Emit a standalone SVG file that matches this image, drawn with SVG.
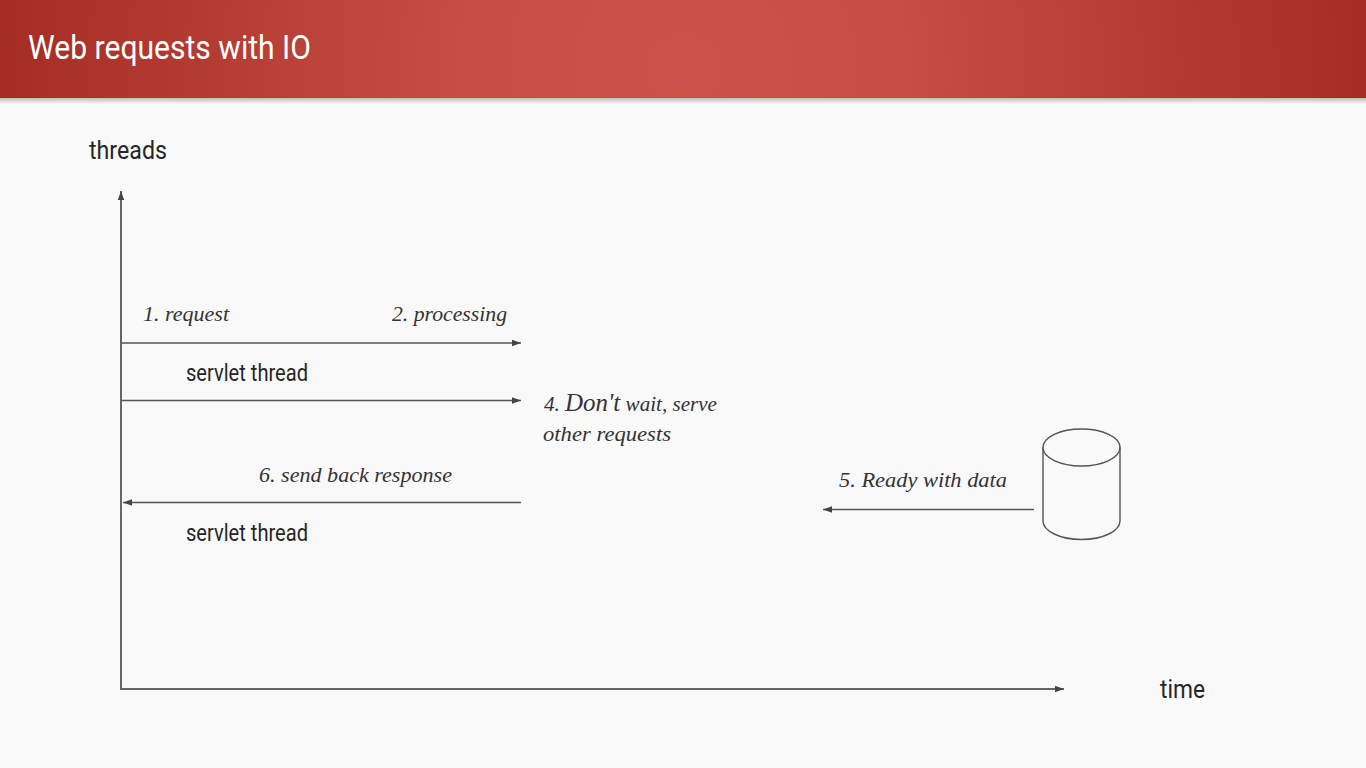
<svg xmlns="http://www.w3.org/2000/svg" width="1366" height="768" viewBox="0 0 1366 768">
<style>
.r{font-family:Roboto,"Liberation Sans",sans-serif;fill:#262626;font-size:25px}
.h{font-family:"Liberation Serif",serif;font-style:italic;fill:#333;font-size:22px}
.l{stroke:#555;stroke-width:1.5;fill:none}
.a{stroke:#666;stroke-width:2;fill:none}
.c{stroke:#555;stroke-width:1.4;fill:none}
</style>
<defs>
<radialGradient id="g" gradientUnits="userSpaceOnUse" cx="683" cy="70" r="720">
<stop offset="0" stop-color="#c9524a"/><stop offset=".3" stop-color="#c64e44"/><stop offset="1" stop-color="#a22a20"/>
</radialGradient>
<linearGradient id="s" x1="0" y1="0" x2="0" y2="1"><stop offset="0" stop-color="#bdbdbd"/><stop offset="1" stop-color="#f9f9f9"/></linearGradient>
<marker id="m" markerUnits="userSpaceOnUse" markerWidth="10" markerHeight="8" refX="9" refY="4" orient="auto"><path d="M0 .8L9 4L0 7.2z" fill="#444"/></marker>
</defs>
<rect width="1366" height="768" fill="#f9f9f9"/>
<g id="header">
<rect y="98" width="1366" height="6" fill="url(#s)"/>
<rect width="1366" height="98" fill="url(#g)"/>
<text x="28" y="59" font-family="Roboto,sans-serif" font-size="33" fill="#fff" textLength="283" lengthAdjust="spacingAndGlyphs">Web requests with IO</text>
</g>
<g id="connectors">
<path class="a" d="M121 689V191" marker-end="url(#m)"/>
<path class="a" d="M120 689H1064" marker-end="url(#m)"/>
<path class="l" d="M122 343H521" marker-end="url(#m)"/>
<path class="l" d="M122 400.500H521" marker-end="url(#m)"/>
<path class="l" d="M521 502.500H123" marker-end="url(#m)"/>
<path class="l" d="M1034 509.500H823" marker-end="url(#m)"/>
</g>
<g id="axis-labels">
<text class="r" x="89" y="159" textLength="78" lengthAdjust="spacingAndGlyphs">threads</text>
<text class="r" x="1160" y="698" textLength="45" lengthAdjust="spacingAndGlyphs">time</text>
</g>
<g id="thread-1"><text class="r" x="186" y="381" textLength="122" lengthAdjust="spacingAndGlyphs" style="font-size:23.500px">servlet thread</text></g>
<g id="thread-2"><text class="r" x="186" y="541" textLength="122" lengthAdjust="spacingAndGlyphs" style="font-size:23.500px">servlet thread</text></g>
<g id="notes">
<text class="h" x="143" y="321" textLength="86" lengthAdjust="spacingAndGlyphs">1. request</text>
<text class="h" x="392" y="321" textLength="115" lengthAdjust="spacingAndGlyphs">2. processing</text>
<text class="h" x="544" y="411" textLength="173" lengthAdjust="spacingAndGlyphs">4. <tspan font-size="26">Don't</tspan> wait, serve</text>
<text class="h" x="543" y="441" textLength="128" lengthAdjust="spacingAndGlyphs">other requests</text>
<text class="h" x="259" y="482" textLength="193" lengthAdjust="spacingAndGlyphs">6. send back response</text>
<text class="h" x="839" y="487" textLength="168" lengthAdjust="spacingAndGlyphs">5. Ready with data</text>
</g>
<g id="database">
<path class="c" d="M1043 447.500V521C1043 531 1060 539.500 1081.500 539.500S1120 531 1120 521V447.500"/>
<ellipse class="c" cx="1081.500" cy="447.500" rx="38.500" ry="18.500"/>
</g>
</svg>
